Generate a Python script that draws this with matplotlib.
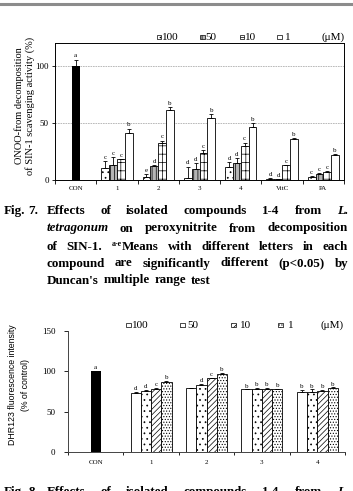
import matplotlib
matplotlib.use('Agg')
import numpy as np
import matplotlib.pyplot as plt
from matplotlib.patches import Rectangle

W, H = 353, 491

# ---- Fig. 7 data (ONOO- scavenging, %) ----
cats7 = ['CON', '1', '2', '3', '4', 'VitC', 'PA']
con7, con7_err = 100, 5.5
onoo_100 = [10.8, 3.0, 1.8, 11.7, 1.0, 2.9]
onoo_100_err = [6.0, 2.5, 10.0, 4.0, 0.4, 0.5]
onoo_50 = [13.0, 12.6, 9.4, 15.2, 0.6, 5.6]
onoo_50_err = [7.0, 0.4, 5.2, 3.8, 0.3, 0.3]
onoo_10 = [18.0, 32.0, 23.4, 29.8, 12.9, 6.7]
onoo_10_err = [0.5, 2.5, 2.6, 3.0, 0.3, 0.9]
onoo_1 = [41.5, 61.4, 54.4, 46.0, 36.0, 22.0]
onoo_1_err = [3.5, 2.8, 3.2, 3.7, 0.6, 0.4]
lett7_100 = ['c', 'e', 'd', 'd', 'd', 'c']
lett7_50 = ['c', 'd', 'd', 'd', 'd', 'c']
lett7_10 = ['c', 'c', 'c', 'c', 'c', 'c']
lett7_1 = ['b', 'b', 'b', 'b', 'b', 'b']

# ---- Fig. 8 data (DHR123 fluorescence, % of control) ----
cats8 = ['CON', '1', '2', '3', '4']
con8, con8_err = 100, 0.5
dhr_100 = [73.5, 79.0, 77.5, 75.0]
dhr_100_err = [0.5, 0.5, 0.2, 2.0]
dhr_50 = [76.0, 82.5, 77.5, 75.0]
dhr_50_err = [1.0, 1.5, 1.5, 2.5]
dhr_10 = [78.5, 91.5, 78.5, 76.0]
dhr_10_err = [0.8, 0.8, 0.8, 1.2]
dhr_1 = [87.0, 97.0, 78.0, 79.0]
dhr_1_err = [0.8, 0.8, 0.3, 1.0]
lett8_100 = ['d', '', 'b', 'b']
lett8_50 = ['d', 'd', 'b', 'b']
lett8_10 = ['c', 'c', 'b', 'b']
lett8_1 = ['b', 'b', 'b', 'b']

SERIF = 'Liberation Serif'
plt.rcParams['font.family'] = SERIF
plt.rcParams['hatch.linewidth'] = 0.5
plt.rcParams['hatch.color'] = '#555555'

fig = plt.figure(figsize=(W / 100, H / 100), dpi=100)


def fx(x):
    return x / W


def fy(y):
    return 1 - y / H


# gray rule at the top of the page
fig.add_artist(plt.Line2D([0, 1], [fy(3.5), fy(3.5)], color='#8c8c8c', lw=2.2))


def bars(ax, x, vals, errs, letters, w, face, hatch, lsize):
    ax.bar(x, vals, w, color=face, edgecolor='black', hatch=hatch, lw=0.6, zorder=3)
    ax.errorbar(x, vals, yerr=[np.zeros(len(vals)), errs], fmt='none',
                ecolor='black', elinewidth=0.6, capsize=1.5, capthick=0.6, zorder=4)
    for xi, v, e, s in zip(x, vals, errs, letters):
        if s:
            ax.text(xi, v + e + 1.0, s, ha='center', va='bottom', fontsize=lsize)


# ================= Fig. 7 chart =================
ax1 = fig.add_axes([fx(55), fy(180), fx(344) - fx(55), fy(43) - fy(180)])
w7 = 0.19
x7 = np.arange(1, len(cats7))
styles7 = [('white', '...'), ('#b5b5b5', '||||'), ('white', '++'), ('white', '')]
series7 = [(onoo_100, onoo_100_err, lett7_100), (onoo_50, onoo_50_err, lett7_50),
           (onoo_10, onoo_10_err, lett7_10), (onoo_1, onoo_1_err, lett7_1)]
ax1.bar([0], [con7], w7, color='black', zorder=3)
ax1.errorbar([0], [con7], yerr=[[0], [con7_err]], fmt='none', ecolor='black',
             elinewidth=0.6, capsize=1.5, capthick=0.6, zorder=4)
ax1.text(0, con7 + con7_err + 1, 'a', ha='center', va='bottom', fontsize=5)
for k, ((v, e, l), (fc, ht)) in enumerate(zip(series7, styles7)):
    bars(ax1, x7 + (k - 1.5) * w7, v, e, l, w7, fc, ht, 5)
ax1.set_xlim(-0.5, len(cats7) - 0.5)
ax1.set_ylim(0, 120)
ax1.set_yticks([0, 50, 100])
ax1.yaxis.grid(True, color='#b0b0b0', lw=0.6, ls=(0, (2, 1)))
ax1.set_axisbelow(True)
ax1.set_xticks(np.arange(-0.5, len(cats7)))
ax1.set_xticklabels([])
ax1.set_xticks(np.arange(len(cats7)), minor=True)
ax1.set_xticklabels(cats7, minor=True, fontsize=5)
ax1.tick_params(axis='x', which='minor', length=0, pad=4)
ax1.tick_params(axis='x', which='major', length=3, width=0.6)
ax1.tick_params(axis='y', labelsize=6.5, length=2.5, width=0.6, pad=2)
for sp in ax1.spines.values():
    sp.set_linewidth(0.7)
fig.text(fx(19), fy(106), 'ONOO-from decomposition', rotation=90, fontsize=7.5,
         ha='center', va='center')
fig.text(fx(30), fy(106), 'of SIN-1 scavenging activity (%)', rotation=90, fontsize=7.5,
         ha='center', va='center')


def legend(entries, styles, y, size):
    for (xs, xt, lab), (fc, ht) in zip(entries, styles):
        fig.add_artist(Rectangle((fx(xs), fy(y + 2.3)), fx(4.6), 4.6 / H, facecolor=fc,
                                 edgecolor='black', hatch=ht, lw=0.5))
        fig.text(fx(xt), fy(y), lab, fontsize=size, ha='left', va='center')


legend([(156.5, 161.5, '100'), (200, 205, '50'), (239.5, 244.5, '10'), (277, 284.5, '1')],
       [('white', '....'), ('#b5b5b5', '||||'), ('white', '++'), ('white', '')], 37, 8)
fig.text(fx(345), fy(37), '(\u03bcM)', fontsize=8, ha='right', va='center')

# ================= Fig. 8 chart =================
ax2 = fig.add_axes([fx(68), fy(452), fx(345) - fx(68), fy(331) - fy(452)])
w8 = 0.185
x8 = np.arange(1, len(cats8))
styles8 = [('white', ''), ('white', '...'), ('white', '//////'), ('white', '......')]
series8 = [(dhr_100, dhr_100_err, lett8_100), (dhr_50, dhr_50_err, lett8_50),
           (dhr_10, dhr_10_err, lett8_10), (dhr_1, dhr_1_err, lett8_1)]
ax2.bar([0], [con8], w8, color='black', zorder=3)
ax2.text(0, con8 + 2, 'a', ha='center', va='bottom', fontsize=5)
for k, ((v, e, l), (fc, ht)) in enumerate(zip(series8, styles8)):
    bars(ax2, x8 + (k - 1.5) * w8, v, e, l, w8, fc, ht, 5)
ax2.set_xlim(-0.5, len(cats8) - 0.5)
ax2.set_ylim(0, 150)
ax2.set_yticks([0, 50, 100, 150])
ax2.set_xticks(np.arange(-0.5, len(cats8)))
ax2.set_xticklabels([])
ax2.set_xticks(np.arange(len(cats8)), minor=True)
ax2.set_xticklabels(cats8, minor=True, fontsize=5)
ax2.tick_params(axis='x', which='minor', length=0, pad=6)
ax2.tick_params(axis='x', which='major', length=2.5, width=0.6)
ax2.tick_params(axis='y', labelsize=6.5, length=3, width=0.6, pad=6)
ax2.spines['top'].set_visible(False)
ax2.spines['right'].set_visible(False)
for sp in ['left', 'bottom']:
    ax2.spines[sp].set_linewidth(0.7)
    ax2.spines[sp].set_color('#444444')
fig.text(fx(13), fy(385), 'DHR123 fluorescence intensity', rotation=90, fontsize=6.3,
         family='Liberation Sans', ha='center', va='center')
fig.text(fx(25), fy(385), '(% of control)', rotation=90, fontsize=6.3,
         family='Liberation Sans', ha='center', va='center')
legend([(126, 132, '100'), (180, 187, '50'), (231, 240, '10'), (278, 288, '1')],
       [('white', ''), ('white', '...'), ('white', '//////'), ('white', '......')], 325, 8)
fig.text(fx(344), fy(325), '(\u03bcM)', fontsize=8, ha='right', va='center')

# ================= captions (bold, justified) =================
renderer = fig.canvas.get_renderer()
CS = 9.4


def caption_line(words, y, x0, x1=None, gap=4.0):
    # words: list of words, each a list of (text, style, size, rise)
    placed = []
    total = 0
    for word in words:
        parts = []
        ww = 0
        for txt, st, sz, rise in word:
            t = fig.text(0, 0, txt, fontsize=sz, weight='bold', style=st, va='baseline')
            pw = t.get_window_extent(renderer).width
            parts.append((t, ww, rise))
            ww += pw
        placed.append((parts, ww))
        total += ww
    if x1 is not None and len(words) > 1:
        gap = (x1 - x0 - total) / (len(words) - 1)
    x = x0
    for parts, ww in placed:
        for t, off, rise in parts:
            t.set_position((fx(x + off), fy(y - rise)))
        x += ww + gap


def wd(s, st='normal', sz=CS, rise=0):
    return [(s, st, sz, rise)]


def plain(text):
    return [wd(s) for s in text.split()]


caption_line([wd('Fig.'), wd('7.')], 213.5, 4, gap=3.0)
caption_line(plain('Effects of isolated compounds 1-4 from') + [wd('L.', 'italic')],
             213.5, 46.5, 348)
caption_line([wd('tetragonum', 'italic')] + plain('on peroxynitrite from decomposition'),
             231.5, 46.5, 348)
caption_line(plain('of SIN-1.') + [[('a-e', 'normal', 5.8, 4), ('Means', 'normal', CS, 0)]]
             + plain('with different letters in each'), 249.5, 46.5, 348)
caption_line(plain('compound are significantly different (p<0.05) by'), 266.5, 46.5, 348)
caption_line(plain("Duncan's multiple range test"), 283.5, 46.5, gap=5.0)

caption_line([wd('Fig.'), wd('8.')], 495, 4, gap=3.0)
caption_line(plain('Effects of isolated compounds 1-4 from') + [wd('L.', 'italic')],
             495, 46.5, 348)

fig.savefig('out.png', dpi=100)
